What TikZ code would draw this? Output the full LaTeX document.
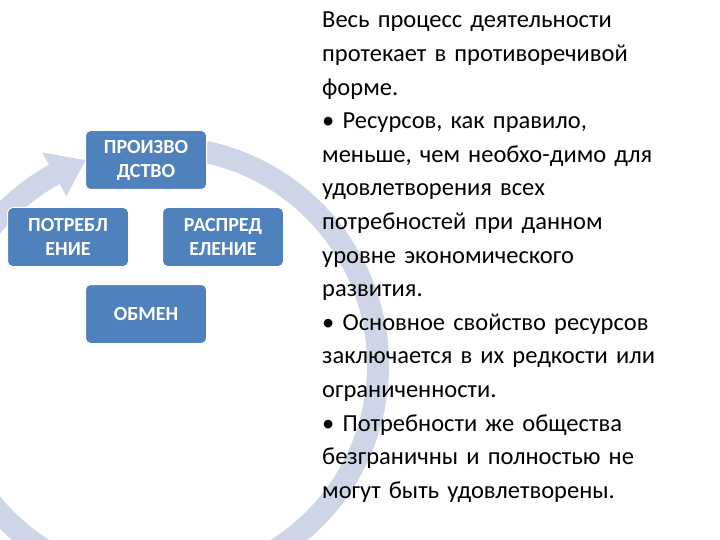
\documentclass[tikz,border=0pt]{standalone}
\usepackage{fontspec}
\setmainfont{Carlito}
\begin{document}
\begin{tikzpicture}[x=1pt,y=-1pt,
 box/.style={draw=white,line width=1pt,fill={rgb,255:red,79;green,129;blue,189},rounded corners=5pt,minimum width=121pt,minimum height=59pt,text=white,font=\fontsize{20}{24}\selectfont\bfseries,align=center,inner sep=1pt},
 txt/.style={anchor=north west,align=left,font=\fontsize{24.5}{33.6}\selectfont,text width=420pt,inner sep=0pt}]
\useasboundingbox (0,0) rectangle (720,540);
\definecolor{ring}{RGB}{205,213,230}
\coordinate (c) at (160,365);
\begin{scope}[shift={(c)}]
\draw[ring,line width=22pt] (-78:218) arc[start angle=-78,end angle=241,radius=218];
\fill[ring] (241:193) -- (241:243) -- (250:218) -- cycle;
\end{scope}
\node[box] (p) at (146,160) {ПРОИЗВО\\ДСТВО};
\node[box] (c1) at (68,237) {ПОТРЕБЛ\\ЕНИЕ};
\node[box] (r) at (223,237) {РАСПРЕД\\ЕЛЕНИЕ};
\node[box] (o) at (146,314) {ОБМЕН};
\node[txt] (t) at (322,12) {Весь процесс деятельности\\протекает в противоречивой\\форме.\\• Ресурсов, как правило,\\меньше, чем необхо-димо для\\удовлетворения всех\\потребностей при данном\\уровне экономического\\развития.\\• Основное свойство ресурсов\\заключается в их редкости или\\ограниченности.\\• Потребности же общества\\безграничны и полностью не\\могут быть удовлетворены.};
\end{tikzpicture}
\end{document}
